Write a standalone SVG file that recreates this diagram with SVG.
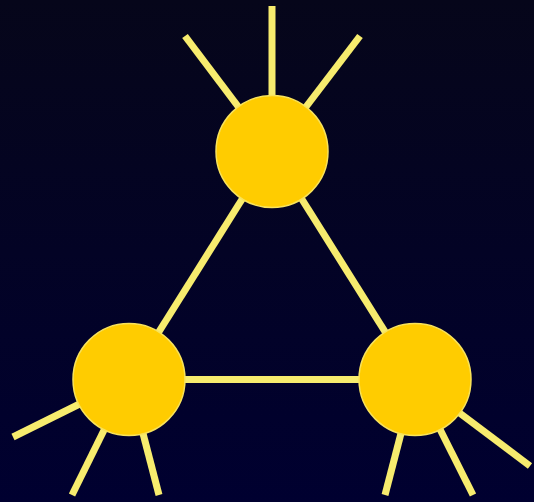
<svg xmlns="http://www.w3.org/2000/svg" width="534" height="502" viewBox="0 0 534 502">
<defs>
<linearGradient id="bg" x1="0" y1="0" x2="0" y2="1">
<stop offset="0" stop-color="#06061a"/>
<stop offset="1" stop-color="#000030"/>
</linearGradient>
<style>
.ln{stroke:#f7ec6e;stroke-width:7;fill:none}
.nd{fill:#ffcc00;stroke:#f9e35a;stroke-width:1.5}
</style>
</defs>
<rect width="534" height="502" fill="url(#bg)"/>
<g id="connectors">
<line class="ln" x1="272" y1="151.5" x2="129" y2="379.5"/>
<line class="ln" x1="272" y1="151.5" x2="415" y2="379.5"/>
<line class="ln" x1="129" y1="379.5" x2="415" y2="379.5"/>
<line class="ln" x1="272" y1="151.5" x2="272" y2="6"/>
<line class="ln" x1="272" y1="151.5" x2="185" y2="36"/>
<line class="ln" x1="272" y1="151.5" x2="360" y2="36"/>
<line class="ln" x1="129" y1="379.5" x2="13" y2="437"/>
<line class="ln" x1="129" y1="379.5" x2="72" y2="495"/>
<line class="ln" x1="129" y1="379.5" x2="159" y2="495"/>
<line class="ln" x1="415" y1="379.5" x2="385" y2="495"/>
<line class="ln" x1="415" y1="379.5" x2="473" y2="495"/>
<line class="ln" x1="415" y1="379.5" x2="530" y2="466"/>
</g>
<g id="node-top"><circle class="nd" cx="272" cy="151.5" r="56"/></g>
<g id="node-left"><circle class="nd" cx="129" cy="379.5" r="56"/></g>
<g id="node-right"><circle class="nd" cx="415" cy="379.5" r="56"/></g>
</svg>
